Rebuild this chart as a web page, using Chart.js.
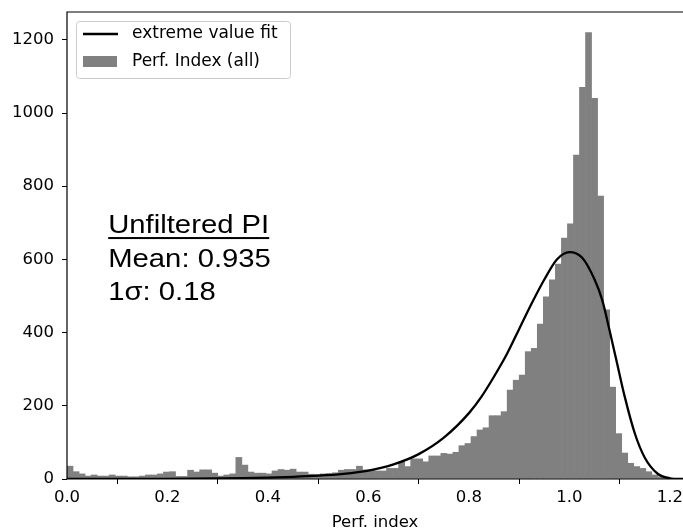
<!DOCTYPE html>
<html>
<head>
<meta charset="utf-8">
<script src="https://cdn.jsdelivr.net/npm/chart.js@4.4.1/dist/chart.umd.min.js"></script>
<style>
  body { margin: 0; background: #fff; }
</style>
</head>
<body>
<canvas id="miGrafico" width="683" height="531"></canvas>
<script>
// Histograma: 100 bins de ancho 0.012 empezando en 0
const inicioBins = 0;
const anchoBin = 0.012;
const conteos = [
  35, 20, 14, 8, 11, 8, 8, 11, 8, 8,
  6, 6, 8, 11, 11, 14, 19, 20, 7, 7,
  24, 19, 25, 25, 16, 8, 11, 14, 59, 38,
  19, 16, 16, 14, 22, 26, 24, 27, 19, 19,
  13, 12, 14, 15, 17, 24, 26, 26, 35, 25,
  25, 22, 22, 29, 29, 47, 34, 55, 55, 47,
  63, 63, 70, 68, 73, 91, 97, 116, 134, 140,
  173, 173, 184, 243, 270, 284, 348, 357, 423, 498,
  544, 587, 658, 697, 885, 1070, 1220, 1040, 773, 462,
  251, 124, 71, 43, 34, 29, 20, 11, 6, 3
];

// Curva del ajuste
const ajusteX = [0, 0.1, 0.2, 0.3, 0.35, 0.4, 0.45, 0.5, 0.55, 0.6, 0.65, 0.7, 0.75, 0.8, 0.825, 0.85,
  0.875, 0.9, 0.925, 0.95, 0.975, 1.0, 1.025, 1.05, 1.065, 1.08, 1.095, 1.11, 1.13, 1.15, 1.175, 1.2, 1.226];
const ajusteY = [0, 0, 0.5, 1.5, 2.5, 4, 6, 9, 14, 23, 40, 68, 113, 180, 225, 280,
  340, 410, 480, 545, 600, 620, 605, 545, 490, 405, 315, 225, 125, 58, 15, 2, 0];

// Ticks de los ejes
const ticksX = [0, 0.2, 0.4, 0.6, 0.8, 1.0, 1.2];
const ticksY = [0, 200, 400, 600, 800, 1000, 1200];

// Texto de la anotación
const anotacion = ['Unfiltered PI', 'Mean: 0.935', '1\u03c3: 0.18'];

const fuenteEjes = { family: 'DejaVu Sans', size: 16.5 };

// Plugin para el marco, la leyenda y la anotación
const marcoYTextos = {
  id: 'marcoYTextos',
  afterDatasetsDraw(chart) {
    const { ctx, chartArea } = chart;
    ctx.save();
    ctx.strokeStyle = '#000';
    ctx.lineWidth = 1.2;
    ctx.beginPath();
    ctx.moveTo(chartArea.left, chartArea.bottom);
    ctx.lineTo(chartArea.left, chartArea.top);
    ctx.lineTo(chartArea.right + 5, chartArea.top);
    ctx.moveTo(chartArea.left, chartArea.bottom);
    ctx.lineTo(chartArea.right + 5, chartArea.bottom);
    ctx.stroke();
    ctx.restore();
  },
  afterDraw(chart) {
    const { ctx, chartArea, scales } = chart;
    const ds = chart.data.datasets;
    ctx.save();

    // Leyenda
    const lx = chartArea.left + 9, ly = chartArea.top + 9;
    ctx.beginPath();
    ctx.roundRect(lx + 0.5, ly + 0.5, 214, 57, 3);
    ctx.fillStyle = 'rgba(255,255,255,0.8)';
    ctx.fill();
    ctx.strokeStyle = '#cccccc';
    ctx.lineWidth = 1;
    ctx.stroke();

    ctx.strokeStyle = ds[0].borderColor;
    ctx.lineWidth = 2.3;
    ctx.beginPath();
    ctx.moveTo(lx + 7, ly + 13);
    ctx.lineTo(lx + 42, ly + 13);
    ctx.stroke();
    ctx.fillStyle = ds[1].backgroundColor;
    ctx.fillRect(lx + 7, ly + 35, 34, 11);

    ctx.fillStyle = '#000';
    ctx.font = '17px "DejaVu Sans"';
    ctx.textBaseline = 'middle';
    ctx.fillText(ds[0].label, lx + 56, ly + 13);
    ctx.fillText(ds[1].label, lx + 56, ly + 41);

    // Anotación con estadísticas
    const ax = scales.x.getPixelForValue(0.082);
    const ay = scales.y.getPixelForValue(672);
    ctx.font = '26px "Liberation Sans", Arial, sans-serif';
    ctx.textBaseline = 'alphabetic';
    const anchoObjetivo = 161;
    const escala = anchoObjetivo / ctx.measureText(anotacion[0]).width;
    anotacion.forEach((t, i) => {
      ctx.save();
      ctx.translate(ax, ay + i * 33.5);
      ctx.scale(escala, 1);
      ctx.fillText(t, 0, 0);
      ctx.restore();
    });
    ctx.fillRect(ax, ay + 4, anchoObjetivo, 2);
    ctx.restore();
  }
};

// Función para crear el gráfico
function crearGrafico() {
  const datosBarras = conteos.map((c, i) => ({ x: inicioBins + (i + 0.5) * anchoBin, y: c }));
  const datosAjuste = ajusteX.map((x, i) => ({ x: x, y: ajusteY[i] }));

  const ctx = document.getElementById('miGrafico').getContext('2d');
  new Chart(ctx, {
    type: 'bar',
    data: {
      datasets: [{
        type: 'line',
        label: 'extreme value fit',
        data: datosAjuste,
        borderColor: '#000000',
        borderWidth: 2.3,
        pointRadius: 0,
        cubicInterpolationMode: 'monotone',
        order: 0
      }, {
        type: 'bar',
        label: 'Perf. Index (all)',
        data: datosBarras,
        backgroundColor: '#808080',
        borderWidth: 0,
        barPercentage: 1,
        categoryPercentage: 1,
        order: 1
      }]
    },
    options: {
      responsive: false,
      animation: false,
      layout: { autoPadding: false, padding: { top: 12, left: 0, right: 0, bottom: 0 } },
      plugins: { legend: { display: false }, tooltip: { enabled: false } },
      scales: {
        x: {
          type: 'linear',
          min: 0,
          max: 1.226,
          offset: false,
          afterBuildTicks: (s) => { s.ticks = ticksX.map(v => ({ value: v })); },
          afterFit: (s) => { s.height = 52; s.paddingLeft = 0; s.paddingRight = 0; },
          ticks: {
            font: fuenteEjes, color: '#000', padding: 4, maxRotation: 0, autoSkip: false,
            callback: (v) => Number(v).toFixed(1)
          },
          grid: { drawOnChartArea: false, drawTicks: true, tickLength: 5, color: '#000', tickWidth: 1 },
          border: { display: false },
          title: { display: true, text: 'Perf. index', font: { family: 'DejaVu Sans', size: 16.5, lineHeight: 1 }, color: '#000', padding: 0 }
        },
        y: {
          min: 0,
          max: 1276,
          afterBuildTicks: (s) => { s.ticks = ticksY.map(v => ({ value: v })); },
          afterFit: (s) => { s.width = 67; s.paddingTop = 0; s.paddingBottom = 0; },
          ticks: { font: fuenteEjes, color: '#000', padding: 8, callback: (v) => String(v) },
          grid: { drawOnChartArea: false, drawTicks: true, tickLength: 5, color: '#000', tickWidth: 1 },
          border: { display: false }
        }
      }
    },
    plugins: [marcoYTextos]
  });
}

document.addEventListener('DOMContentLoaded', () => {
  crearGrafico();
});
</script>
</body>
</html>
